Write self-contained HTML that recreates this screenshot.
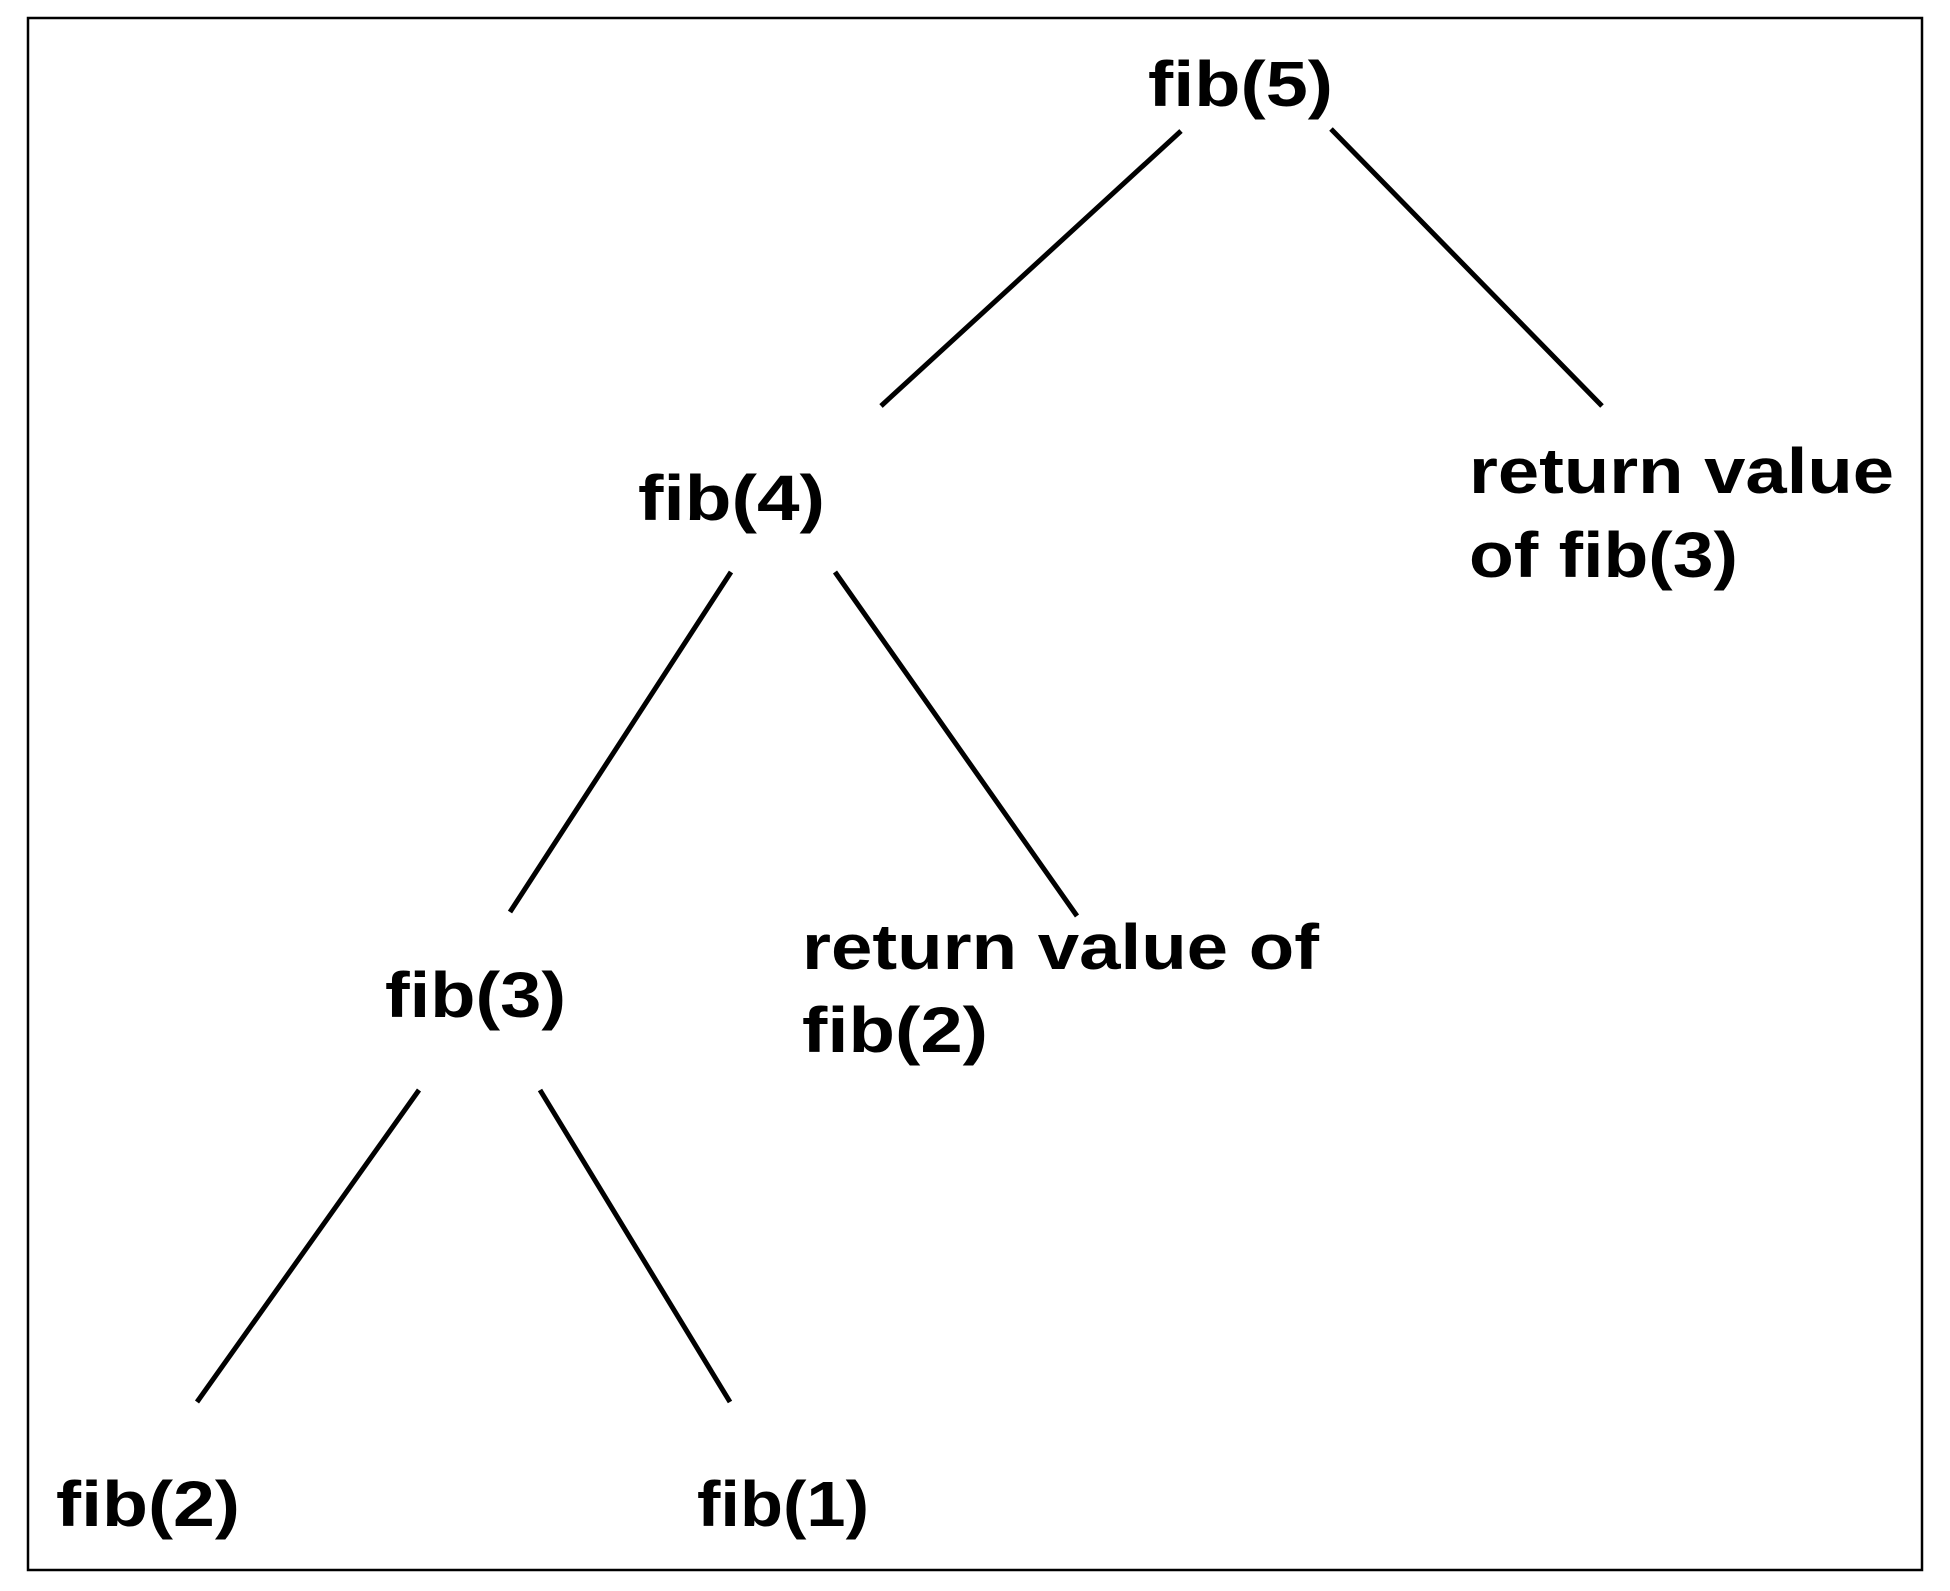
<!DOCTYPE html>
<html><head><meta charset="utf-8"><style>html,body{margin:0;padding:0;background:#fff}</style></head>
<body>
<svg width="1950" height="1586" viewBox="0 0 1950 1586" xmlns="http://www.w3.org/2000/svg">
<rect x="28" y="18" width="1894" height="1552" fill="#fff" stroke="#000" stroke-width="2.5"/>
<g stroke="#000" stroke-width="5" stroke-linecap="butt">
<line x1="1181" y1="131" x2="881" y2="406"/>
<line x1="1331" y1="129" x2="1602" y2="406"/>
<line x1="731" y1="572" x2="510" y2="912"/>
<line x1="835" y1="572" x2="1077" y2="916"/>
<line x1="419" y1="1090" x2="197" y2="1402"/>
<line x1="540" y1="1090" x2="730" y2="1402"/>
</g>
<g font-family="Liberation Sans, sans-serif" font-weight="bold" font-size="64" fill="#000">
<text x="1148" y="106" textLength="185" lengthAdjust="spacingAndGlyphs">fib(5)</text>
<text x="638" y="520" textLength="187" lengthAdjust="spacingAndGlyphs">fib(4)</text>
<text x="1469" y="493" textLength="425" lengthAdjust="spacingAndGlyphs">return value</text>
<text x="1469" y="577" textLength="269" lengthAdjust="spacingAndGlyphs">of fib(3)</text>
<text x="385" y="1017" textLength="181" lengthAdjust="spacingAndGlyphs">fib(3)</text>
<text x="802" y="969" textLength="517" lengthAdjust="spacingAndGlyphs">return value of</text>
<text x="802" y="1052" textLength="186" lengthAdjust="spacingAndGlyphs">fib(2)</text>
<text x="56" y="1526" textLength="184" lengthAdjust="spacingAndGlyphs">fib(2)</text>
<text x="697" y="1526" textLength="172" lengthAdjust="spacingAndGlyphs">fib(1)</text>
</g>
</svg>
</body></html>
